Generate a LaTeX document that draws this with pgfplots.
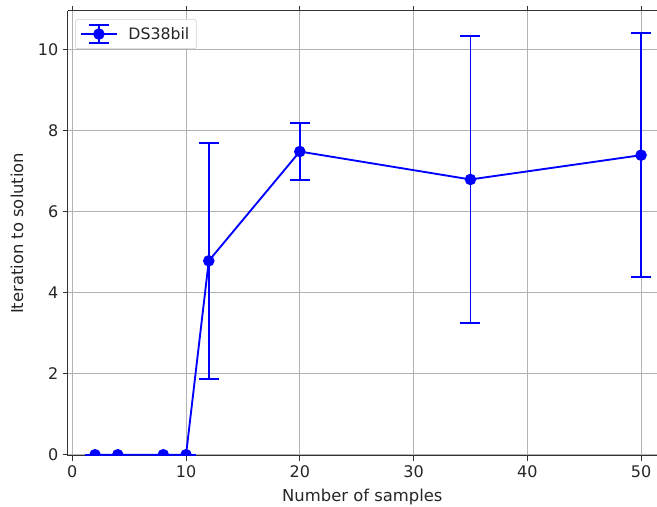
\documentclass[border=0pt]{standalone}
\usepackage{fontspec}
\setmainfont{DejaVu Sans}
\usepackage{pgfplots}
\pgfplotsset{compat=1.18}
\begin{document}
\begin{tikzpicture}
\begin{axis}[
  scale only axis,
  width=442pt, height=334pt,
  xmin=-0.4, xmax=51.4, ymin=-0.03, ymax=10.97,
  axis x line*=box, axis y line*=left,
  axis line style={black!80, line width=0.8pt},
  xtick={0,10,20,30,40,50},
  ytick={0,2,4,6,8,10},
  tick align=outside,
  major tick length=3.6pt,
  tick style={black!80, line width=0.8pt},
  grid=major,
  grid style={color=black!30, line width=0.8pt},
  ticklabel style={font=\fontsize{12}{14}\selectfont, text=black!85},
  /pgf/number format/assume math mode=true,
  xlabel={Number of samples},
  ylabel={Iteration to solution},
  label style={font=\fontsize{12.3}{14}\selectfont, text=black!85},
  xlabel style={at={(axis description cs:0.5,0)}, anchor=center, yshift=-31pt},
  ylabel style={at={(axis description cs:0,0.5)}, anchor=center, yshift=38pt},
  clip marker paths=true,
  legend style={at={(0.0124,0.981)}, anchor=north west, draw=black!20, rounded corners=2pt, font=\fontsize{11.8}{13}\selectfont, text=black!85, inner sep=3.5pt},
  legend cell align=left,
]
\addplot+[blue, mark=*, line width=1.4pt, mark size=3.6pt, mark options={fill=blue, draw=blue},
  legend image code/.code={
    \draw[blue, line width=1.4pt] (0pt,0pt) -- (27pt,0pt);
    \draw[blue, line width=1.4pt] (13.5pt,-6.8pt) -- (13.5pt,6.8pt);
    \draw[blue, line width=1.4pt] (6pt,-6.8pt) -- (21pt,-6.8pt);
    \draw[blue, line width=1.4pt] (6pt,6.8pt) -- (21pt,6.8pt);
    \fill[blue] (13.5pt,0pt) circle (3.6pt);
    \path (33pt,0pt);
  },
  error bars/.cd, y dir=both, y explicit,
  error bar style={line width=1.4pt, blue},
  error mark options={rotate=90, mark size=7.5pt, line width=1.4pt, blue}]
  coordinates {
  (2,0) +- (0,0)
  (4,0) +- (0,0)
  (8,0) +- (0,0)
  (10,0) +- (0,0)
  (12,4.79) +- (0,2.92)
  (20,7.49) +- (0,0.71)
  (35,6.80) +- (0,3.55)
  (50,7.40) +- (0,3.02)
  };
\addlegendentry{DS38bil}
\end{axis}
\pgfresetboundingbox
\path (-50.8pt,-38.25pt) rectangle (442pt,342pt);
\end{tikzpicture}
\end{document}
